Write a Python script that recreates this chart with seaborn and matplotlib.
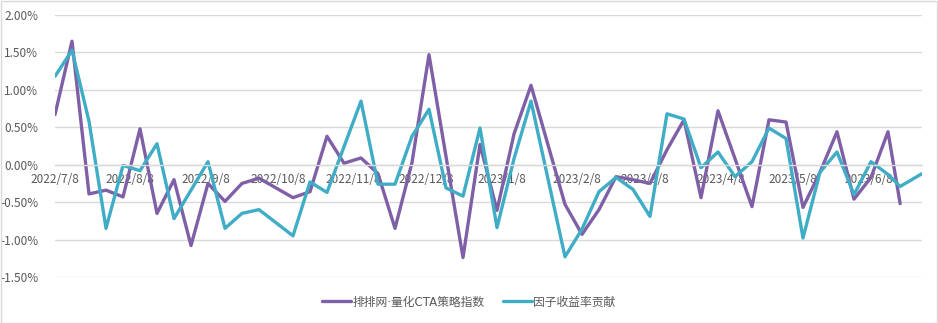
import matplotlib
matplotlib.use("Agg")
import matplotlib.pyplot as plt
import matplotlib.dates as mdates
from matplotlib.ticker import FuncFormatter, FixedLocator
from matplotlib.patches import Rectangle
import seaborn as sns
import pandas as pd

# ---- data (weekly, values in %) ----
dates_cta = ["2022-07-08", "2022-07-15", "2022-07-22", "2022-07-29", "2022-08-05", "2022-08-12",
             "2022-08-19", "2022-08-26", "2022-09-02", "2022-09-09", "2022-09-16", "2022-09-23",
             "2022-09-30", "2022-10-14", "2022-10-21", "2022-10-28", "2022-11-04", "2022-11-11",
             "2022-11-18", "2022-11-25", "2022-12-02", "2022-12-09", "2022-12-16", "2022-12-23",
             "2022-12-30", "2023-01-06", "2023-01-13", "2023-01-20", "2023-02-03", "2023-02-10",
             "2023-02-17", "2023-02-24", "2023-03-03", "2023-03-10", "2023-03-17", "2023-03-24",
             "2023-03-31", "2023-04-07", "2023-04-14", "2023-04-21", "2023-04-28", "2023-05-05",
             "2023-05-12", "2023-05-19", "2023-05-26", "2023-06-02", "2023-06-09", "2023-06-16",
             "2023-06-21"]
values_cta = [0.67, 1.65, -0.39, -0.34, -0.43, 0.48, -0.65, -0.20, -1.08, -0.25, -0.49, -0.25,
              -0.18, -0.44, -0.36, 0.38, 0.02, 0.09, -0.12, -0.85, 0.03, 1.47, 0.11, -1.24,
              0.27, -0.61, 0.41, 1.06, -0.53, -0.93, -0.60, -0.16, -0.20, -0.25, 0.20, 0.60,
              -0.44, 0.72, 0.08, -0.56, 0.60, 0.57, -0.57, -0.10, 0.44, -0.46, -0.17, 0.44,
              -0.52]

dates_factor = dates_cta + ["2023-06-30"]
values_factor = [1.18, 1.53, 0.58, -0.85, -0.01, -0.08, 0.28, -0.72, -0.34, 0.04, -0.85, -0.65,
                 -0.60, -0.95, -0.23, -0.37, 0.24, 0.85, -0.26, -0.26, 0.38, 0.74, -0.31, -0.42,
                 0.49, -0.84, 0.08, 0.85, -1.23, -0.86, -0.36, -0.17, -0.33, -0.69, 0.68, 0.61,
                 -0.04, 0.17, -0.16, 0.04, 0.49, 0.35, -0.98, -0.10, 0.17, -0.40, 0.04, -0.13,
                 -0.29, -0.12]

series_names = ["排排网·量化CTA策略指数", "因子收益率贡献"]
tick_dates = ["2022-07-08", "2022-08-08", "2022-09-08", "2022-10-08", "2022-11-08", "2022-12-08",
              "2023-01-08", "2023-02-08", "2023-03-08", "2023-04-08", "2023-05-08", "2023-06-08"]
y_ticks = [-1.5, -1.0, -0.5, 0.0, 0.5, 1.0, 1.5, 2.0]

df = pd.concat([
    pd.DataFrame({"date": pd.to_datetime(dates_cta), "value": values_cta, "series": series_names[0]}),
    pd.DataFrame({"date": pd.to_datetime(dates_factor), "value": values_factor, "series": series_names[1]}),
], ignore_index=True)

# ---- style ----
sns.set_theme(style="white")
plt.rcParams["font.family"] = ["Noto Sans CJK SC", "DejaVu Sans"]
text_color = "#595959"
grid_color = "#D9D9D9"
palette = {series_names[0]: "#7F5FA6", series_names[1]: "#3FADC5"}

W, H = 938, 323
fig = plt.figure(figsize=(W / 100, H / 100), dpi=100)
ax = fig.add_axes([55 / W, 1 - 277 / H, (922 - 55) / W, (277 - 15) / H])

sns.lineplot(data=df, x="date", y="value", hue="series", palette=palette,
             linewidth=2.4, ax=ax, legend=True)

ax.set_axisbelow(True)
ax.set_ylim(-1.5, 2.0)
ax.set_xlim(pd.Timestamp("2022-07-08"), pd.Timestamp("2023-06-30"))
ax.yaxis.set_major_locator(FixedLocator(y_ticks))
ax.yaxis.set_major_formatter(FuncFormatter(lambda v, p: f"{v:.2f}%"))
ax.xaxis.set_major_locator(FixedLocator(mdates.date2num(pd.to_datetime(tick_dates))))
ax.xaxis.set_major_formatter(FuncFormatter(
    lambda v, p: (lambda d: f"{d.year}/{d.month}/{d.day}")(mdates.num2date(v))))

ax.grid(axis="y", color=grid_color, linewidth=1.0)
ax.grid(axis="x", visible=False)
for s in ["left", "right", "top"]:
    ax.spines[s].set_visible(False)
ax.spines["bottom"].set_position(("data", 0))
ax.spines["bottom"].set_color(grid_color)
ax.spines["bottom"].set_linewidth(1.0)

ax.tick_params(axis="y", length=0, pad=12, labelsize=8.5, labelcolor=text_color)
ax.tick_params(axis="x", length=3, width=0.8, color=grid_color, pad=3,
               labelsize=8.5, labelcolor=text_color, direction="out")
ax.set_xlabel("")
ax.set_ylabel("")

handles, labels = ax.get_legend_handles_labels()
ax.get_legend().remove()
leg = fig.legend(handles, labels, loc="center", bbox_to_anchor=(0.5, 1 - 302 / H), ncol=2,
                 frameon=False, fontsize=8.5, labelcolor=text_color, handlelength=2.4,
                 handletextpad=0.15, columnspacing=1.6)
for t in leg.get_texts():
    t.set_family(["DejaVu Sans", "Noto Sans CJK SC"])

fig.patches.append(Rectangle((0.5 / W, 0.5 / H), 1 - 1.5 / W, 1 - 1.5 / H, transform=fig.transFigure,
                             fill=False, edgecolor=grid_color, linewidth=1.0))

fig.savefig("out.png", dpi=100)
